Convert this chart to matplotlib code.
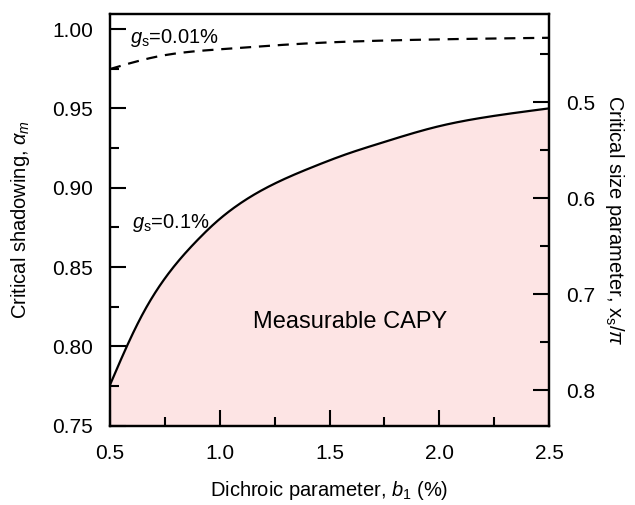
import matplotlib
matplotlib.use("Agg")
import matplotlib.pyplot as plt
import numpy as np
from matplotlib.ticker import MultipleLocator

plt.rcParams['font.family'] = ['Liberation Sans', 'DejaVu Sans']
plt.rcParams['mathtext.fontset'] = 'custom'
plt.rcParams['mathtext.it'] = 'Liberation Sans:italic'
plt.rcParams['mathtext.rm'] = 'Liberation Sans'

# Data
b_solid = [0.5, 0.576, 0.652, 0.728, 0.804, 0.902, 0.971, 1.092, 1.259, 1.426,
           1.578, 1.73, 1.988, 2.246, 2.5]
a_solid = [0.7757, 0.7998, 0.8212, 0.8385, 0.8525, 0.8675, 0.8768, 0.8900, 0.9032, 0.9132,
           0.9212, 0.9280, 0.9384, 0.9452, 0.950]
b_dash = [0.5, 0.713, 1.016, 1.366, 1.821, 2.5]
a_dash = [0.9748, 0.9826, 0.9874, 0.9907, 0.9930, 0.9945]

x_ticks = [0.5, 1.0, 1.5, 2.0, 2.5]
y_ticks = [0.75, 0.80, 0.85, 0.90, 0.95, 1.00]
r_ticks = [0.5, 0.6, 0.7, 0.8]


def spline(xs, ys, n=400):
    """Natural cubic spline through the read points (drawing only)."""
    xs = np.asarray(xs, float); ys = np.asarray(ys, float)
    N = len(xs); h = np.diff(xs)
    A = np.zeros((N, N)); r = np.zeros(N)
    A[0, 0] = A[-1, -1] = 1
    for i in range(1, N - 1):
        A[i, i-1] = h[i-1]; A[i, i] = 2*(h[i-1] + h[i]); A[i, i+1] = h[i]
        r[i] = 6*((ys[i+1]-ys[i])/h[i] - (ys[i]-ys[i-1])/h[i-1])
    M = np.linalg.solve(A, r)
    xx = np.linspace(xs[0], xs[-1], n)
    idx = np.clip(np.searchsorted(xs, xx, side='right') - 1, 0, N - 2)
    x0 = xs[idx]; x1 = xs[idx+1]; hh = h[idx]
    yy = (M[idx]*(x1-xx)**3/(6*hh) + M[idx+1]*(xx-x0)**3/(6*hh)
          + (ys[idx]/hh - M[idx]*hh/6)*(x1-xx) + (ys[idx+1]/hh - M[idx+1]*hh/6)*(xx-x0))
    return xx, yy


fig = plt.figure(figsize=(6.35, 5.05), dpi=100)
ax = fig.add_axes([0.1732, 0.157, 0.6914, 0.8153])

xs, ys = spline(b_solid, a_solid)
xd, yd = spline(b_dash, a_dash)

ax.fill_between(xs, 0.75, ys, color='#fde4e4', lw=0, zorder=1)
ax.plot(xs, ys, color='black', lw=1.6, zorder=3)
ax.plot(xd, yd, color='black', lw=1.6, ls=(0, (5, 3.5)), zorder=3)

ax.set_xlim(0.5, 2.5)
ax.set_ylim(0.75, 1.0095)
ax.set_xticks(x_ticks)
ax.set_xticklabels([f"{v:.1f}" for v in x_ticks])
ax.set_yticks(y_ticks)
ax.set_yticklabels([f"{v:.2f}" for v in y_ticks])
ax.xaxis.set_minor_locator(MultipleLocator(0.25))
ax.yaxis.set_minor_locator(MultipleLocator(0.025))
ax.tick_params(which='both', direction='in', top=False, right=False, width=1.5,
               labelsize=15, colors='black')
ax.tick_params(which='major', length=11.5)
ax.tick_params(axis='x', which='major', pad=13)
ax.tick_params(axis='y', which='major', pad=12)
ax.tick_params(which='minor', length=6.5)
for s in ax.spines.values():
    s.set_linewidth(1.6)

ax.set_xlabel(r"Dichroic parameter, $\mathit{b}_{\mathregular{1}}$ (%)", fontsize=14.5, labelpad=12)
ax.set_ylabel(r"Critical shadowing, $\mathit{\alpha}_{\mathit{m}}$", fontsize=14.5, labelpad=15)

ax2 = ax.twinx()
ax2.set_ylim(0.837, 0.408)
ax2.set_yticks(r_ticks)
ax2.set_yticklabels([f"{v:.1f}" for v in r_ticks])
ax2.yaxis.set_minor_locator(MultipleLocator(0.05))
ax2.tick_params(which='both', direction='in', width=1.5, labelsize=15)
ax2.tick_params(which='major', length=11.5, pad=12)
ax2.tick_params(which='minor', length=6.5)
for s in ax2.spines.values():
    s.set_linewidth(1.6)
ax2.set_ylabel(r"Critical size parameter, x$_{\mathregular{s}}$/$\mathit{\pi}$", fontsize=14.5,
               rotation=-90, va='center', ha='center')
ax2.yaxis.set_label_coords(1.150, 0.5)

ax.text(0.59, 0.9945, r"$\mathit{g}_{\mathregular{s}}$=0.01%", fontsize=14.5, va='center', ha='left')
ax.text(0.6, 0.878, r"$\mathit{g}_{\mathregular{s}}$=0.1%", fontsize=14.5, va='center', ha='left')
ax.text(1.593, 0.8154, "Measurable CAPY", fontsize=17, va='center', ha='center')

fig.savefig("out.png", dpi=100)
